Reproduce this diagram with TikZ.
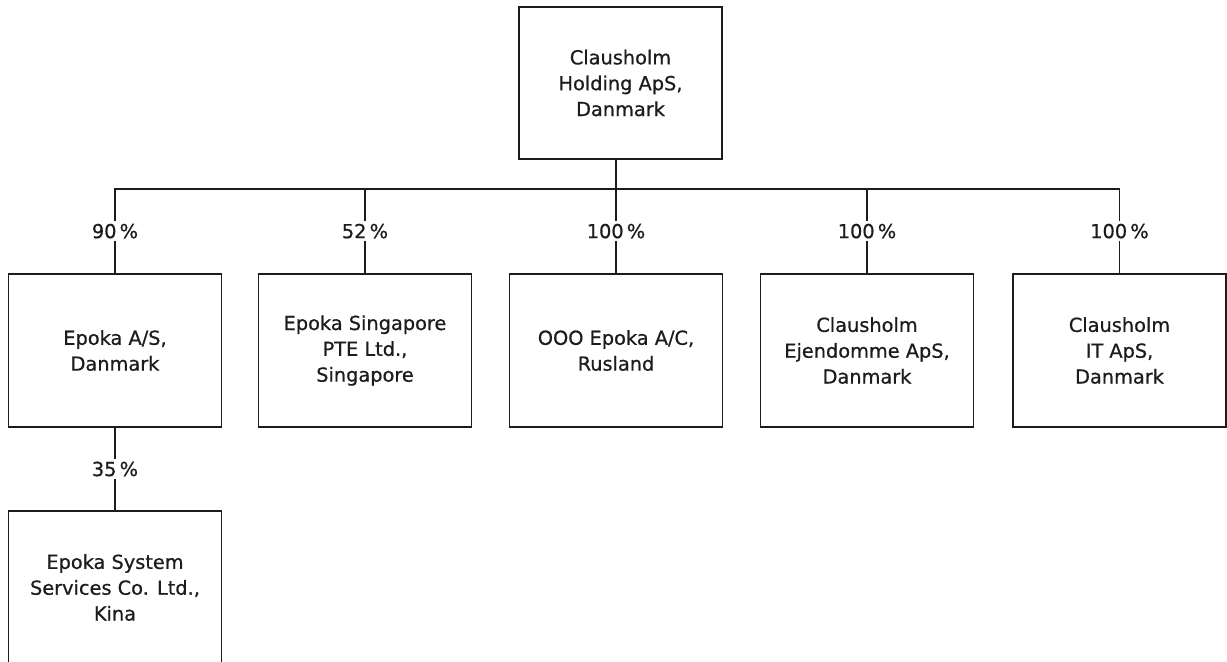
\documentclass[tikz,border=0pt]{standalone}
\usepackage{fontspec}
\setmainfont{DejaVu Sans}[FakeBold=0.7]
\usetikzlibrary{positioning}
\definecolor{LineGray}{RGB}{28,28,28}
\tikzset{
    company/.style={rectangle, draw=LineGray, line width=0.85pt, minimum width=4.26cm, minimum height=3.06cm,
        align=center, text=LineGray, font=\fontsize{11}{14.7}\selectfont},
    share/.style={fill=white, inner sep=1.5pt, text=LineGray, font=\fontsize{11}{13}\selectfont},
    link/.style={draw=LineGray, line width=0.85pt}
}

\begin{document}
\begin{tikzpicture}
    \useasboundingbox (0,0) rectangle (24.54,-13.22);
    \node[company, minimum width=4.06cm, minimum height=3.04cm] (holding) at (12.41,-1.66) {Clausholm\\Holding ApS,\\Danmark};
    \node[company] (epoka) at (2.30,-7.01) {Epoka A/S,\\Danmark};
    \node[company] (singapore) at (7.30,-7.01) {Epoka Singapore\\PTE Ltd.,\\Singapore};
    \node[company] (rusland) at (12.32,-7.01) {OOO Epoka A/C,\\Rusland};
    \node[company] (ejendomme) at (17.34,-7.01) {Clausholm\\Ejendomme ApS,\\Danmark};
    \node[company] (it) at (22.39,-7.01) {Clausholm\\IT ApS,\\Danmark};
    \node[company] (kina) at (2.30,-11.75) {Epoka System\\Services Co. Ltd.,\\Kina};

    \coordinate (bus) at (0,-3.78);
    \draw[link] (holding.south -| rusland.north) -- (rusland.north |- bus);
    \foreach \child/\pct in {epoka/90, singapore/52, rusland/100, ejendomme/100, it/100}
        \draw[link] (rusland.north |- bus) -| node[share, pos=0.75] {\pct\,\%} (\child.north);
    \draw[link] (epoka.south) -- node[share] {35\,\%} (kina.north);
\end{tikzpicture}
\end{document}
